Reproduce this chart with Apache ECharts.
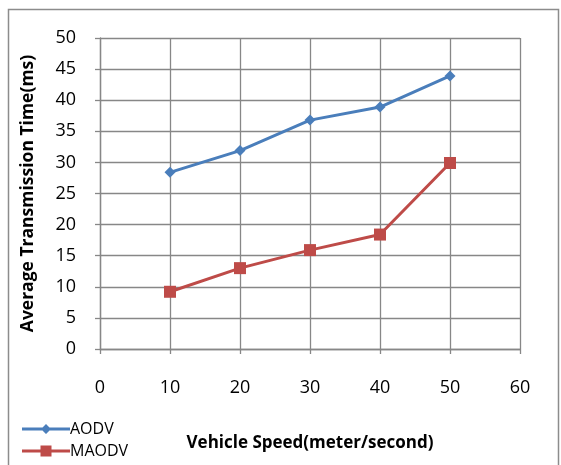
<!DOCTYPE html>
<html>
<head>
<meta charset="utf-8">
<script src="https://cdn.jsdelivr.net/npm/echarts@6/dist/echarts.min.js"></script>
<style>
  html, body { margin: 0; padding: 0; background: #fff; }
  #chart { width: 561px; height: 465px; }
</style>
</head>
<body>
<div id="chart"></div>
<script>
// Vehicle speed (m/s) on the x axis
const speeds = [10, 20, 30, 40, 50];
// Average transmission time (ms) per protocol
const aodvTimes = [28.4, 31.9, 36.8, 38.9, 43.9];
const maodvTimes = [9.2, 13.0, 15.9, 18.4, 29.9];
const seriesNames = ['AODV', 'MAODV'];

const FONT = '"Open Sans", "Noto Sans", sans-serif';
const GRID = '#878787';

// Legend glyphs: a thick stroke with the series marker in the middle
const ICON_DIAMOND = 'path://M0,4L48,4L48,7L0,7Z M24,0.5L29,5.5L24,10.5L19,5.5Z';
const ICON_SQUARE = 'path://M0,4L48,4L48,7L0,7Z M18.5,0L29.5,0L29.5,11L18.5,11Z';

const chart = echarts.init(document.getElementById('chart'), null, { renderer: 'canvas' });

function pairs(xs, ys) {
  return xs.map((x, i) => [x, ys[i]]);
}

chart.setOption({
  animation: false,
  backgroundColor: '#fff',
  graphic: [{
    type: 'rect',
    shape: { x: 8.5, y: 9.5, width: 550, height: 470 },
    style: { fill: 'none', stroke: '#8c8c8c', lineWidth: 1.5 },
    silent: true
  }],
  grid: { left: 100, top: 38, width: 420, height: 311, containLabel: false },
  legend: {
    left: 17,
    top: 416,
    orient: 'vertical',
    itemWidth: 48,
    itemHeight: 11,
    itemGap: 6,
    textStyle: { fontFamily: FONT, fontSize: 16, color: '#000', padding: [0, 0, 0, -5] },
    data: [
      { name: seriesNames[0], icon: ICON_DIAMOND },
      { name: seriesNames[1], icon: ICON_SQUARE }
    ]
  },
  xAxis: {
    type: 'value',
    min: 0, max: 60, interval: 10,
    name: 'Vehicle Speed(meter/second)',
    nameLocation: 'middle',
    nameGap: 86,
    nameTextStyle: { fontFamily: FONT, fontSize: 17, fontWeight: 'bold', color: '#000' },
    axisLine: { show: true, onZero: false, lineStyle: { color: GRID, width: 1.3 } },
    axisTick: { show: true, inside: false, length: 5, lineStyle: { color: GRID, width: 1.3 } },
    axisLabel: { margin: 30, fontFamily: FONT, fontSize: 18, color: '#000' },
    splitLine: { show: true, lineStyle: { color: GRID, width: 1.3 } }
  },
  yAxis: {
    type: 'value',
    min: 0, max: 50, interval: 5,
    name: 'Average Transmission Time(ms)',
    nameLocation: 'middle',
    nameGap: 63,
    nameTextStyle: { fontFamily: FONT, fontSize: 17.5, fontWeight: 'bold', color: '#000' },
    axisLine: { show: true, lineStyle: { color: GRID, width: 1.3 } },
    axisTick: { show: true, inside: false, length: 5, lineStyle: { color: GRID, width: 1.3 } },
    axisLabel: { margin: 24, fontFamily: FONT, fontSize: 18, color: '#000' },
    splitLine: { show: true, lineStyle: { color: GRID, width: 1.3 } }
  },
  series: [
    {
      name: seriesNames[0],
      type: 'line',
      data: pairs(speeds, aodvTimes),
      symbol: 'diamond',
      symbolSize: 11,
      color: '#4a7ebb',
      lineStyle: { width: 3, color: '#4a7ebb' },
      itemStyle: { color: '#4a7ebb' }
    },
    {
      name: seriesNames[1],
      type: 'line',
      data: pairs(speeds, maodvTimes),
      symbol: 'rect',
      symbolSize: 12,
      color: '#be4b48',
      lineStyle: { width: 3, color: '#be4b48' },
      itemStyle: { color: '#be4b48' }
    }
  ]
});
</script>
</body>
</html>
